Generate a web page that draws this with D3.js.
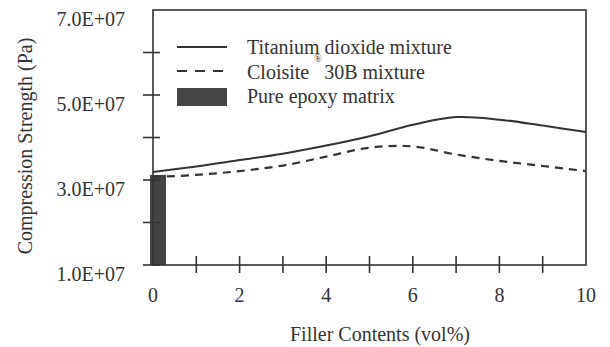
<!DOCTYPE html>
<html>
<head>
<meta charset="utf-8">
<script src="https://cdn.jsdelivr.net/npm/d3@7"></script>
<style>
  body { margin: 0; background: #fff; }
  svg text { font-family: "Liberation Serif", "Times New Roman", serif; fill: #333; white-space: pre; }
</style>
</head>
<body>
<div id="chart"></div>
<script>

// filler content (vol%)
var fillerX = [0, 1, 2, 3, 4, 5, 6, 7, 8, 9, 10]

// compression strength (Pa)
var titanium = [3.19e7, 3.32e7, 3.47e7, 3.62e7, 3.81e7, 4.03e7, 4.30e7, 4.48e7, 4.42e7, 4.28e7, 4.13e7]
var cloisite = [3.07e7, 3.12e7, 3.21e7, 3.34e7, 3.55e7, 3.76e7, 3.79e7, 3.60e7, 3.45e7, 3.33e7, 3.21e7]

var pureEpoxy = 3.12e7

var yTicks = [1e7, 2e7, 3e7, 4e7, 5e7, 6e7]
var yLabels = [1e7, 3e7, 5e7, 7e7]
var xTicks = [1, 2, 3, 4, 5, 6, 7, 8, 9]
var xLabels = [0, 2, 4, 6, 8, 10]

var legendItems = ["Titanium dioxide mixture", "Cloisite\u00a0\u00a0\u00a030B mixture", "Pure epoxy matrix"]

var width = 610, height = 347
var ink = "#333"

var svg = d3.select("#chart").append("svg")
	.attr("width", width)
	.attr("height", height)

var x = d3.scaleLinear().domain([0, 10]).range([153, 586])
var y = d3.scaleLinear().domain([1e7, 7e7]).range([265, 10])

var fmt = (v) => v.toExponential(1).toUpperCase().replace("E+", "E+0")

// pure epoxy bar at 0 vol%
svg.append("rect")
	.attr("x", x(0) - 3)
	.attr("y", y(pureEpoxy))
	.attr("width", x(0.3) - x(0) + 3)
	.attr("height", y(1e7) - y(pureEpoxy))
	.attr("fill", "#444")

// frame
svg.append("rect")
	.attr("x", x(0))
	.attr("y", y(7e7))
	.attr("width", x(10) - x(0))
	.attr("height", y(1e7) - y(7e7))
	.attr("fill", "none")
	.attr("stroke", ink)
	.attr("stroke-width", 1.6)

// y ticks crossing the axis
svg.append("g").selectAll("line")
	.data(yTicks)
	.join("line")
	.attr("x1", x(0) - 10).attr("x2", x(0) + 7)
	.attr("y1", d => y(d)).attr("y2", d => y(d))
	.attr("stroke", ink).attr("stroke-width", 1.6)

svg.append("g").selectAll("text")
	.data(yLabels)
	.join("text")
	.attr("x", 125)
	.attr("y", d => y(d) + 16)
	.attr("text-anchor", "end")
	.attr("font-size", 20)
	.text(d => fmt(d))

// x ticks crossing the axis
svg.append("g").selectAll("line")
	.data(xTicks)
	.join("line")
	.attr("x1", d => x(d)).attr("x2", d => x(d))
	.attr("y1", y(1e7) - 9).attr("y2", y(1e7) + 8)
	.attr("stroke", ink).attr("stroke-width", 1.6)

svg.append("g").selectAll("text")
	.data(xLabels)
	.join("text")
	.attr("x", d => x(d))
	.attr("y", 302)
	.attr("text-anchor", "middle")
	.attr("font-size", 20)
	.text(d => d)

// axis titles
svg.append("text")
	.attr("x", 380).attr("y", 341)
	.attr("text-anchor", "middle")
	.attr("font-size", 20)
	.text("Filler Contents (vol%)")

svg.append("text")
	.attr("transform", "translate(32,146) rotate(-90)")
	.attr("text-anchor", "middle")
	.attr("font-size", 20)
	.text("Compression Strength (Pa)")

// curves
var line = d3.line()
	.x((d, i) => x(fillerX[i]))
	.y(d => y(d))
	.curve(d3.curveCatmullRom.alpha(0.5))

svg.append("path")
	.attr("d", line(titanium))
	.attr("fill", "none")
	.attr("stroke", ink)
	.attr("stroke-width", 2)

svg.append("path")
	.attr("d", line(cloisite))
	.attr("fill", "none")
	.attr("stroke", ink)
	.attr("stroke-width", 2.2)
	.attr("stroke-dasharray", "8,6")

// legend
var lg = svg.append("g")

lg.append("line")
	.attr("x1", 177).attr("x2", 227).attr("y1", 47).attr("y2", 47)
	.attr("stroke", ink).attr("stroke-width", 2)

lg.append("line")
	.attr("x1", 177).attr("x2", 227).attr("y1", 71).attr("y2", 71)
	.attr("stroke", ink).attr("stroke-width", 2.2)
	.attr("stroke-dasharray", "10,8")

lg.append("rect")
	.attr("x", 177).attr("y", 88).attr("width", 50).attr("height", 18)
	.attr("fill", "#444")

lg.selectAll("text.item")
	.data(legendItems)
	.join("text")
	.attr("class", "item")
	.attr("x", 247)
	.attr("y", (d, i) => 54 + i * 24.5)
	.attr("font-size", 20)
	.text(d => d)

// registered mark, sits between the first two legend rows as in the scan
lg.append("text")
	.attr("x", 318).attr("y", 62)
	.attr("text-anchor", "middle")
	.attr("font-size", 10)
	.text("®")

</script>
</body>
</html>
